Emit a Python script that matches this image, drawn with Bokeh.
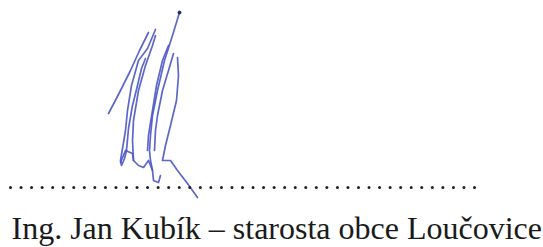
import numpy as np
from bokeh.plotting import figure
from bokeh.models import Range1d
from bokeh.core.properties import value
from bokeh.embed import file_html
from bokeh.resources import INLINE

# Signature strokes (image coordinates, y downward)
stroke_xs = [
    [108, 119, 130, 139, 148],
    [155, 147, 138, 131, 127, 125, 122, 120, 121, 124, 126],
    [133, 132, 133, 138, 145, 152, 155],
    [179, 172, 164, 157, 152, 150, 149, 150, 152, 153, 158, 160],
    [173, 168, 162, 157, 155, 154],
    [177, 178, 176, 170, 165, 162, 165, 170, 177, 187, 197],
    [120, 125, 132, 133, 138, 143, 148, 152],
    [168, 162, 156, 152, 148, 147],
    [126, 128, 132, 137, 141, 145],
]
stroke_ys = [
    [113, 92, 70, 50, 32],
    [29, 48, 60, 85, 110, 130, 148, 160, 165, 158, 150],
    [160, 140, 120, 90, 65, 45, 35],
    [12, 35, 60, 90, 115, 135, 150, 160, 170, 180, 182, 175],
    [53, 70, 90, 115, 130, 150],
    [57, 75, 100, 125, 145, 160, 160, 160, 170, 183, 197],
    [162, 150, 153, 160, 165, 167, 160, 170],
    [45, 60, 85, 110, 135, 150],
    [150, 128, 105, 85, 68, 58],
]
dot_x = [179]
dot_y = [12]

# dotted signature line
line_start, line_end, line_dots = 10, 474, 45
line_y = 187

label = "Ing. Jan Kubík – starosta obce Loučovice"
label_x = [11]
label_y = [209]

p = figure(width=543, height=247, output_backend="svg", toolbar_location=None,
           x_range=Range1d(0, 543), y_range=Range1d(247, 0), min_border=0)
p.axis.visible = False
p.grid.visible = False
p.outline_line_color = None
p.background_fill_color = "white"
p.border_fill_color = "white"

p.multi_line(stroke_xs, stroke_ys, line_color="#4a56c6", line_width=1.7, line_alpha=0.9,
             line_join="round", line_cap="round")
p.scatter(dot_x, dot_y, size=3, color="#1e2a6e")
dx = np.linspace(line_start, line_end, line_dots)
p.scatter(dx, [line_y] * len(dx), size=3, color="#222222", line_color=None)
p.text(label_x, label_y, text=[label], text_font=value("Liberation Serif"),
       text_font_size="32px", text_color="#1a1a1a", text_baseline="top")

open("out.html", "w").write(file_html(p, INLINE))
